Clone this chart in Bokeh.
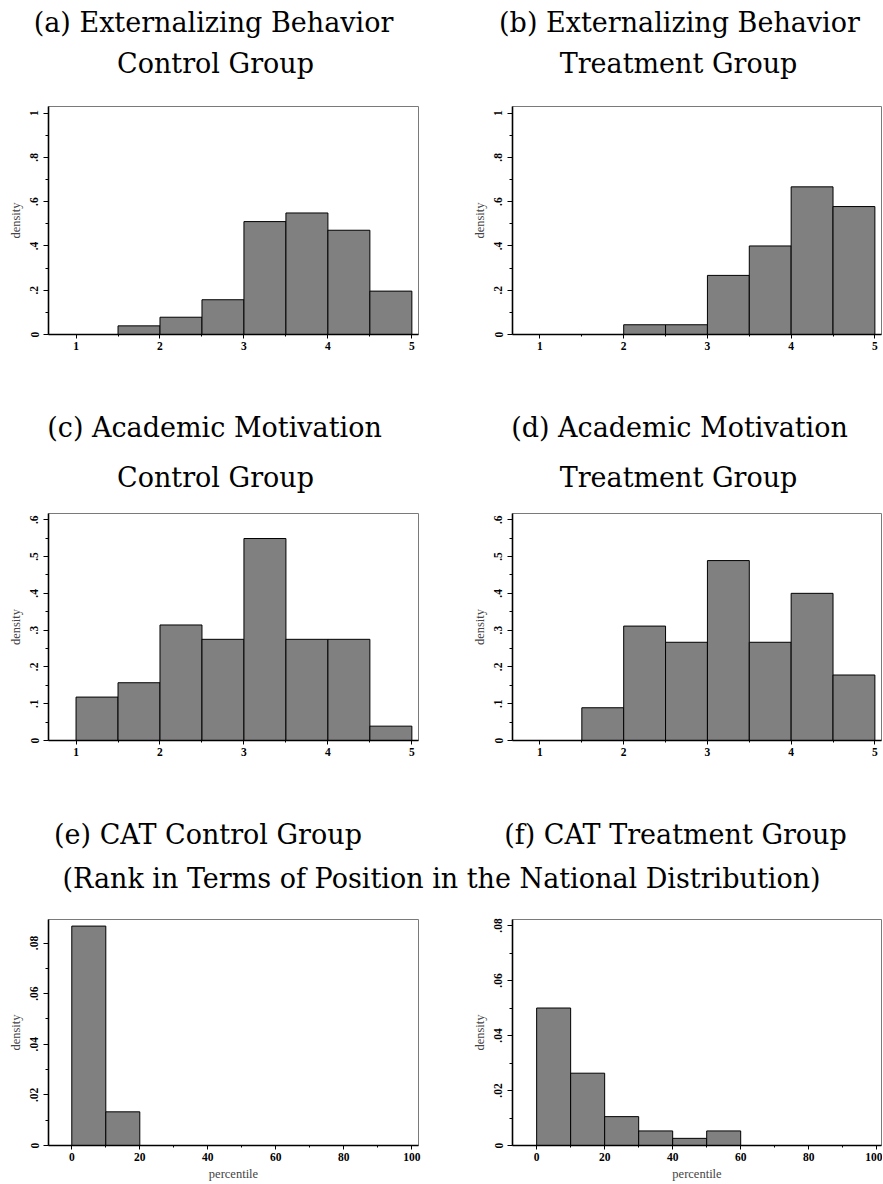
from bokeh.plotting import figure
from bokeh.layouts import column, row
from bokeh.models import Range1d, FixedTicker, CustomJSTickFormatter
from bokeh.core.properties import value
from bokeh.embed import file_html
from bokeh.resources import INLINE

# ---------------- data ----------------
score_edges = [1.0, 1.5, 2.0, 2.5, 3.0, 3.5, 4.0, 4.5, 5.0]
ext_control = [0.0, 0.039, 0.078, 0.157, 0.510, 0.549, 0.471, 0.196]
ext_treatment = [0.0, 0.0, 0.044, 0.044, 0.267, 0.400, 0.667, 0.578]
mot_control = [0.118, 0.157, 0.314, 0.275, 0.549, 0.275, 0.275, 0.039]
mot_treatment = [0.0, 0.089, 0.311, 0.267, 0.489, 0.267, 0.400, 0.178]

pct_edges = [0, 10, 20, 30, 40, 50, 60, 70, 80, 90, 100]
cat_control = [0.0867, 0.0133, 0, 0, 0, 0, 0, 0, 0, 0]
cat_treatment = [0.0500, 0.0263, 0.0105, 0.0053, 0.0026, 0.0053, 0, 0, 0, 0]

score_ticks = [1, 2, 3, 4, 5]
score_minor = [1.5, 2.5, 3.5, 4.5]
ext_yticks = [0, 0.2, 0.4, 0.6, 0.8, 1.0]
ext_yminor = [0.1, 0.3, 0.5, 0.7, 0.9]
mot_yticks = [0, 0.1, 0.2, 0.3, 0.4, 0.5, 0.6]
mot_yminor = [0.05, 0.15, 0.25, 0.35, 0.45, 0.55]
pct_ticks = [0, 20, 40, 60, 80, 100]
pct_minor = [10, 30, 50, 70, 90]
cat_yticks = [0, 0.02, 0.04, 0.06, 0.08]
cat_yminor = [0.01, 0.03, 0.05, 0.07]

titles_row1 = ["(a) Externalizing Behavior", "Control Group",
               "(b) Externalizing Behavior", "Treatment Group"]
titles_row2 = ["(c) Academic Motivation", "Control Group",
               "(d) Academic Motivation", "Treatment Group"]
titles_row3 = ["(e) CAT Control Group", "(f) CAT Treatment Group",
               "(Rank in Terms of Position in the National Distribution)"]

# ---------------- style ----------------
TITLE_FONT = "DejaVu Serif"
TITLE_SIZE = "27px"
TICK_FONT = "Liberation Serif"
PAGE_W = 882
LEFT_W = 441
RIGHT_W = PAGE_W - LEFT_W

fmt = CustomJSTickFormatter(code="""
var s = (Math.round(tick*10000)/10000).toString();
if (s.indexOf('0.') === 0) { s = s.substring(1); }
return s;
""")


def header(height, items, size=TITLE_SIZE):
    p = figure(width=PAGE_W, height=height, output_backend="svg",
               toolbar_location=None,
               x_range=Range1d(0, PAGE_W), y_range=Range1d(height, 0),
               min_border=0)
    p.axis.visible = False
    p.grid.visible = False
    p.outline_line_color = None
    xs = [it[0] for it in items]
    ys = [it[1] for it in items]
    ts = [it[2] for it in items]
    p.text(x=xs, y=ys, text=ts, text_font=value(TITLE_FONT),
           text_font_size=size, text_align="center",
           text_baseline="middle", text_color="#000000")
    return p


def hist(edges, dens, width, height, left_b, right_b, top_b, bottom_b,
         xr, yr, xt, xm, yt, ym, xlabel=None):
    p = figure(width=width, height=height, output_backend="svg",
               toolbar_location=None,
               x_range=Range1d(*xr), y_range=Range1d(*yr),
               min_border_left=left_b, min_border_right=right_b,
               min_border_top=top_b, min_border_bottom=bottom_b)
    p.grid.visible = False
    p.outline_line_color = "#7a7a7a"
    p.outline_line_width = 1
    p.quad(left=edges[:-1], right=edges[1:], bottom=0, top=dens,
           fill_color="#808080", line_color="#000000", line_width=1)
    for ax in (p.xaxis[0], p.yaxis[0]):
        ax.axis_line_color = "#000000"
        ax.axis_line_width = 1.6
        ax.major_tick_line_color = "#000000"
        ax.minor_tick_line_color = "#000000"
        ax.major_tick_line_width = 1
        ax.minor_tick_line_width = 1
        ax.major_tick_in = 0
        ax.minor_tick_in = 0
        ax.major_label_text_font = TICK_FONT
        ax.major_label_text_font_style = "bold"
        ax.major_label_text_font_size = "11.5px"
        ax.major_label_text_color = "#000000"
        ax.formatter = fmt
    p.xaxis[0].ticker = FixedTicker(ticks=xt, minor_ticks=xm)
    p.yaxis[0].ticker = FixedTicker(ticks=yt, minor_ticks=ym)
    p.xaxis[0].major_tick_out = 4
    p.xaxis[0].minor_tick_out = 2
    p.yaxis[0].major_tick_out = 5
    p.yaxis[0].minor_tick_out = 3
    p.xaxis[0].major_label_standoff = 3
    p.yaxis[0].major_label_standoff = 5
    p.yaxis[0].major_label_orientation = "vertical"
    p.yaxis[0].axis_label = "density"
    p.yaxis[0].axis_label_text_font = TICK_FONT
    p.yaxis[0].axis_label_text_font_style = "normal"
    p.yaxis[0].axis_label_text_font_size = "12.5px"
    p.yaxis[0].axis_label_standoff = 5
    if xlabel:
        p.xaxis[0].axis_label = xlabel
        p.xaxis[0].axis_label_text_font = TICK_FONT
        p.xaxis[0].axis_label_text_font_style = "normal"
        p.xaxis[0].axis_label_text_font_size = "12.5px"
        p.xaxis[0].axis_label_standoff = 3
    return p


h1 = header(98, [(213, 21.5, titles_row1[0]), (215, 63, titles_row1[1]),
                 (679, 21.5, titles_row1[2]), (678, 63, titles_row1[3])])
pa = hist(score_edges, ext_control, LEFT_W, 300, 48, 23, 8, 64,
          (0.672, 5.079), (0, 1.03), score_ticks, score_minor,
          ext_yticks, ext_yminor)
pb = hist(score_edges, ext_treatment, RIGHT_W, 300, 71, 1, 8, 64,
          (0.672, 5.079), (0, 1.03), score_ticks, score_minor,
          ext_yticks, ext_yminor)

h2 = header(107, [(214, 29, titles_row2[0]), (215, 79, titles_row2[1]),
                  (679, 29, titles_row2[2]), (678, 79, titles_row2[3])])
pc = hist(score_edges, mot_control, LEFT_W, 300, 48, 23, 8, 65,
          (0.672, 5.079), (0, 0.617), score_ticks, score_minor,
          mot_yticks, mot_yminor)
pd_ = hist(score_edges, mot_treatment, RIGHT_W, 300, 71, 1, 8, 65,
           (0.672, 5.079), (0, 0.617), score_ticks, score_minor,
           mot_yticks, mot_yminor)

h3 = header(106, [(207.5, 29, titles_row3[0]), (675, 29, titles_row3[1]),
                  (441, 73, titles_row3[2])])
pe = hist(pct_edges, cat_control, LEFT_W, 272, 48, 23, 8, 37,
          (-6.85, 101.96), (0, 0.0893), pct_ticks, pct_minor,
          cat_yticks, cat_yminor, xlabel="percentile")
pf = hist(pct_edges, cat_treatment, RIGHT_W, 272, 71, 1, 8, 37,
          (-7.1, 101.4), (0, 0.0822), pct_ticks, pct_minor,
          cat_yticks, cat_yminor, xlabel="percentile")

layout = column(h1, row(pa, pb), h2, row(pc, pd_), h3, row(pe, pf))

open("out.html", "w").write(file_html(layout, INLINE))
